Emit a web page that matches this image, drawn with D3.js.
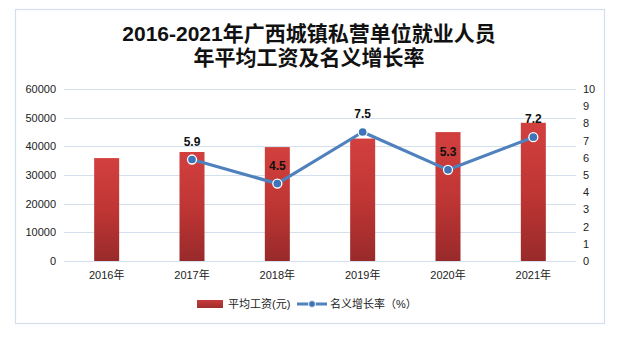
<!DOCTYPE html>
<html>
<head>
<meta charset="utf-8">
<script src="https://cdn.jsdelivr.net/npm/d3@7/dist/d3.min.js"></script>
<style>
  html, body { margin: 0; padding: 0; background: #fff; }
  svg { display: block; }
  text { font-family: "Liberation Sans", "Noto Sans CJK SC", sans-serif; }
</style>
</head>
<body>
<svg id="chart" width="626" height="347"></svg>
<script>
// Data
const years = ["2016年", "2017年", "2018年", "2019年", "2020年", "2021年"];
const wages = [35900, 38020, 39730, 42710, 44970, 48210];          // 平均工资(元)
const growth = [null, 5.9, 4.5, 7.5, 5.3, 7.2];                    // 名义增长率（%）
const leftTicks = [0, 10000, 20000, 30000, 40000, 50000, 60000];
const rightTicks = [0, 1, 2, 3, 4, 5, 6, 7, 8, 9, 10];
const titleLines = ["2016-2021年广西城镇私营单位就业人员", "年平均工资及名义增长率"];
const legendLabels = ["平均工资(元)", "名义增长率（%）"];

const svg = d3.select("#chart");

// Outer frame
svg.append("rect")
  .attr("x", 15.5).attr("y", 9.5)
  .attr("width", 589).attr("height", 314)
  .attr("fill", "#fff")
  .attr("stroke", "#d3deee").attr("stroke-width", 1.2);

// Title
svg.append("g").selectAll("text")
  .data(titleLines)
  .join("text")
  .attr("x", 309)
  .attr("y", (d, i) => 41 + i * 24)
  .attr("text-anchor", "middle")
  .attr("font-family", "'Noto Sans CJK SC', sans-serif")
  .attr("font-weight", "bold")
  .attr("font-size", 21)
  .attr("fill", "#111")
  .text(d => d);

// Scales
const x = d3.scaleBand()
  .domain(years)
  .range([64, 576])
  .paddingInner(0.707)
  .paddingOuter(0.3535);

const yL = d3.scaleLinear().domain([0, 60000]).range([261, 89]);
const yR = d3.scaleLinear().domain([0, 10]).range([261, 89]);

// Gridlines
svg.append("g")
  .selectAll("line")
  .data(leftTicks)
  .join("line")
  .attr("x1", 64).attr("x2", 576)
  .attr("y1", d => Math.round(yL(d)) + 0.5)
  .attr("y2", d => Math.round(yL(d)) + 0.5)
  .attr("stroke", "#d5e0ef").attr("stroke-width", 1);

// Left axis
const leftAxis = svg.append("g")
  .attr("transform", "translate(64,0)")
  .call(d3.axisLeft(yL).tickValues(leftTicks).tickFormat(d3.format("d")).tickSize(0).tickPadding(8));
leftAxis.select(".domain").remove();
leftAxis.selectAll("text").attr("font-size", 11).attr("fill", "#222")
  .attr("font-family", "'Liberation Sans', sans-serif");

// Right axis
const rightAxis = svg.append("g")
  .attr("transform", "translate(576,0)")
  .call(d3.axisRight(yR).tickValues(rightTicks).tickSize(0).tickPadding(7));
rightAxis.select(".domain").remove();
rightAxis.selectAll("text").attr("font-size", 11).attr("fill", "#222")
  .attr("font-family", "'Liberation Sans', sans-serif");

// Bottom axis labels
const bottomAxis = svg.append("g")
  .attr("transform", "translate(0,261)")
  .call(d3.axisBottom(x).tickSize(0).tickPadding(10));
bottomAxis.select(".domain").remove();
bottomAxis.selectAll("text").attr("font-size", 11).attr("fill", "#222")
  .attr("font-family", "'Liberation Sans', 'Noto Sans CJK SC', sans-serif");

// Bar gradient
const defs = svg.append("defs");
const grad = defs.append("linearGradient")
  .attr("id", "barGrad").attr("x1", 0).attr("y1", 0).attr("x2", 0).attr("y2", 1);
grad.append("stop").attr("offset", "0%").attr("stop-color", "#d2403e");
grad.append("stop").attr("offset", "50%").attr("stop-color", "#bf3634");
grad.append("stop").attr("offset", "100%").attr("stop-color", "#992a2a");

const legGrad = defs.append("linearGradient")
  .attr("id", "legGrad").attr("x1", 0).attr("y1", 0).attr("x2", 0).attr("y2", 1);
legGrad.append("stop").attr("offset", "0%").attr("stop-color", "#c83b3a");
legGrad.append("stop").attr("offset", "100%").attr("stop-color", "#a02e2e");

// Bars
svg.append("g")
  .selectAll("rect")
  .data(wages)
  .join("rect")
  .attr("x", (d, i) => x(years[i]))
  .attr("y", d => yL(d))
  .attr("width", x.bandwidth())
  .attr("height", d => yL(0) - yL(d))
  .attr("fill", "url(#barGrad)");

// Growth line
const pts = growth.map((v, i) => ({ year: years[i], v })).filter(d => d.v !== null);
const cx = d => x(d.year) + x.bandwidth() / 2;

svg.append("path")
  .datum(pts)
  .attr("d", d3.line().x(cx).y(d => yR(d.v)))
  .attr("fill", "none")
  .attr("stroke", "#4f81bd")
  .attr("stroke-width", 3.2)
  .attr("stroke-linejoin", "round");

svg.append("g")
  .selectAll("circle")
  .data(pts)
  .join("circle")
  .attr("cx", cx)
  .attr("cy", d => yR(d.v))
  .attr("r", 4.5)
  .attr("fill", "#3e75b8")
  .attr("stroke", "#fff")
  .attr("stroke-width", 1.3);

// Data labels
svg.append("g")
  .selectAll("text")
  .data(pts)
  .join("text")
  .attr("x", cx)
  .attr("y", d => yR(d.v) - 14)
  .attr("text-anchor", "middle")
  .attr("font-size", 12)
  .attr("font-weight", "bold")
  .attr("fill", "#111")
  .attr("font-family", "'Liberation Sans', sans-serif")
  .text(d => d.v.toFixed(1));

// Legend
const leg = svg.append("g");
leg.append("rect")
  .attr("x", 197).attr("y", 300).attr("width", 26).attr("height", 8)
  .attr("fill", "url(#legGrad)");
leg.append("text")
  .attr("x", 228).attr("y", 308)
  .attr("font-size", 11).attr("fill", "#222")
  .attr("font-family", "'Noto Sans CJK SC', sans-serif")
  .text(legendLabels[0]);
leg.append("line")
  .attr("x1", 297).attr("x2", 327).attr("y1", 304).attr("y2", 304)
  .attr("stroke", "#4f81bd").attr("stroke-width", 3);
leg.append("circle")
  .attr("cx", 312).attr("cy", 304).attr("r", 3.5)
  .attr("fill", "#3e75b8").attr("stroke", "#fff").attr("stroke-width", 1);
leg.append("text")
  .attr("x", 330).attr("y", 308)
  .attr("font-size", 11).attr("fill", "#222")
  .attr("font-family", "'Noto Sans CJK SC', sans-serif")
  .text(legendLabels[1]);
</script>
</body>
</html>
